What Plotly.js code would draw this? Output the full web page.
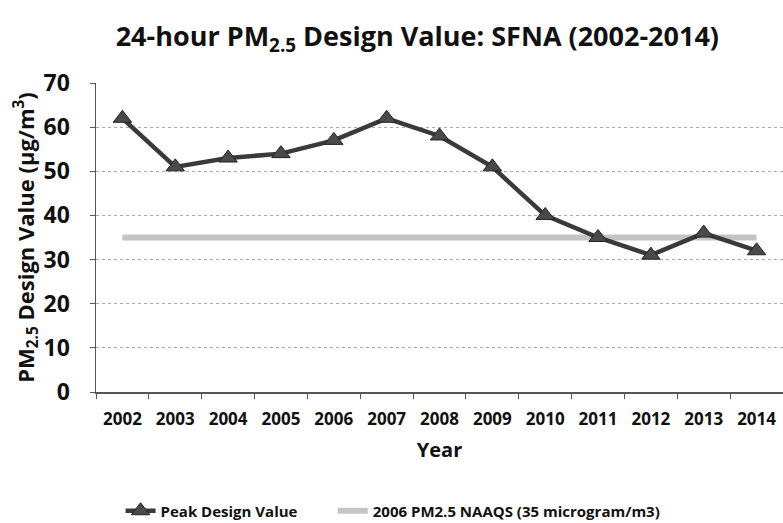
<!DOCTYPE html>
<html><head><meta charset="utf-8">
<script src="https://cdn.plot.ly/plotly-3.0.1.min.js"></script>
<style>html,body{margin:0;padding:0;background:#fff}</style>
</head><body>
<div id="chart" style="width:783px;height:523px"></div>
<script>
const years = ["2002","2003","2004","2005","2006","2007","2008","2009","2010","2011","2012","2013","2014"];
const peakValues = [62,51,53,54,57,62,58,51,40,35,31,36,32];
const naaqsValues = [35,35,35,35,35,35,35,35,35,35,35,35,35];
const yTicks = [0,10,20,30,40,50,60,70];

const F = "'Open Sans', 'Liberation Sans', sans-serif";
const legendFont = {family: F, size: 15, color: '#111', weight: 'bold'};
const traces = [
  {x: years, y: naaqsValues, type: 'scatter', mode: 'lines', name: '2006 PM2.5 NAAQS (35 microgram/m3)',
   legend: 'legend2', line: {color: '#c4c4c4', width: 6}},
  {x: years, y: peakValues, type: 'scatter', mode: 'lines+markers', name: 'Peak Design Value',
   legend: 'legend', line: {color: '#3a3a3a', width: 4.5}, marker: {symbol: 'triangle-up', size: 16, color: '#4a4a4a', line:{color:'#222',width:1}}}
];
const layout = {
  width: 783, height: 523,
  margin: {l: 96, r: 0, t: 83, b: 131, autoexpand: false},
  paper_bgcolor: '#fff', plot_bgcolor: '#fff',
  title: {text: '<b>24-hour PM<sub>2.5</sub> Design Value: SFNA (2002-2014)</b>', x: 0.533, xanchor: 'center', y: 0.93, yanchor: 'middle',
          font: {family: F, size: 27, color: '#111'}},
  xaxis: {type: 'category', range: [-0.5, 12.5], tickson: 'boundaries', ticks: 'outside', ticklen: 5, tickcolor: '#555',
          ticklabelstandoff: 11,
          showline: true, linecolor: '#555', linewidth: 1.5, showgrid: false,
          tickfont: {family: F, size: 17, color: '#111', weight: 'bold'},
          title: {text: '<b>Year</b>', font: {family: F, size: 20, color: '#111'}, standoff: 14}},
  yaxis: {range: [0, 70], tickvals: yTicks, ticks: 'outside', ticklen: 5, tickcolor: '#555',
          ticklabelstandoff: 15,
          showline: true, linecolor: '#555', linewidth: 1.5, showgrid: true, gridcolor: '#aaa', griddash: 'dot', gridwidth: 1,
          zeroline: false,
          tickfont: {family: F, size: 23, color: '#111', weight: 'bold'},
          title: {text: '<b>PM<sub>2.5</sub> Design Value (µg/m<sup>3</sup>)</b>', font: {family: F, size: 22, color: '#111'}, standoff: 3}},
  legend: {orientation: 'h', xref: 'container', yref: 'container', x: 0.154, y: 0.023, xanchor: 'left', yanchor: 'middle',
           bgcolor: 'rgba(0,0,0,0)', font: legendFont, itemwidth: 30},
  legend2: {orientation: 'h', xref: 'container', yref: 'container', x: 0.425, y: 0.023, xanchor: 'left', yanchor: 'middle',
           bgcolor: 'rgba(0,0,0,0)', font: legendFont, itemwidth: 30},
  showlegend: true
};
Plotly.newPlot('chart', traces, layout, {displayModeBar: false, staticPlot: true});
</script>
</body></html>
